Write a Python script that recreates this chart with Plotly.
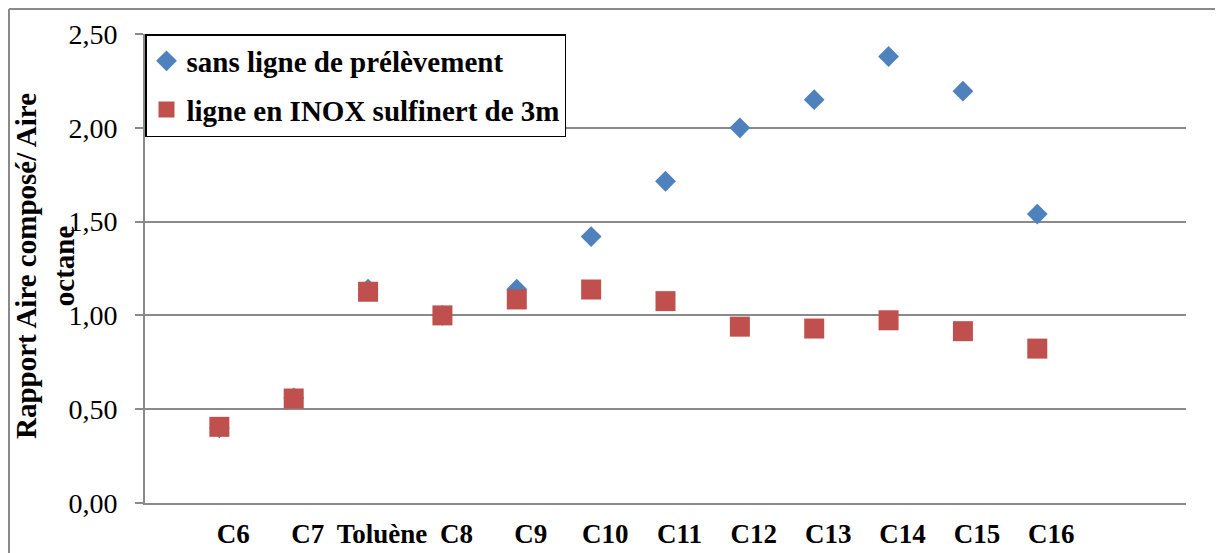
import plotly.graph_objects as go

categories = ["C6", "C7", "Toluène", "C8", "C9", "C10", "C11", "C12", "C13", "C14", "C15", "C16"]
positions = list(range(1, len(categories) + 1))

sans_ligne = [0.40, 0.56, 1.14, 1.00, 1.14, 1.42, 1.715, 2.00, 2.15, 2.38, 2.195, 1.54]
ligne_inox = [0.406, 0.557, 1.126, 1.00, 1.085, 1.138, 1.076, 0.94, 0.93, 0.974, 0.916, 0.823]

y_ticks = [0, 0.5, 1.0, 1.5, 2.0, 2.5]

# page body has an 8px margin, so the figure is 8px smaller than the window
W, H = 1215, 545
L, R, T, B = 137, 37, 26, 50
pw, ph = W - L - R, H - T - B

fig = go.Figure()
fig.add_trace(go.Scatter(
    x=positions, y=sans_ligne, mode="markers", name="<b>sans ligne de prélèvement</b>",
    legendgroup="a",
    marker=dict(symbol="diamond", size=16, color="#4F81BD"),
))
fig.add_trace(go.Scatter(
    x=positions, y=ligne_inox, mode="markers", name="<b>ligne en INOX sulfinert de 3m</b>",
    legendgroup="b",
    marker=dict(symbol="square", size=20, color="#C0504D"),
))

# outer chart border (left + top visible)
fig.add_shape(type="line", xref="paper", yref="paper",
              x0=(1 - L) / pw, x1=(W + 5 - L) / pw, y0=(H - B - 1) / ph, y1=(H - B - 1) / ph,
              line=dict(color="#8a8a8a", width=2))
fig.add_shape(type="line", xref="paper", yref="paper",
              x0=(1 - L) / pw, x1=(1 - L) / pw, y0=(H - B - 1) / ph, y1=-(B + 5) / ph,
              line=dict(color="#8a8a8a", width=2))

fig.add_annotation(
    text="<b>Rapport Aire composé/ Aire<br>octane</b>",
    xref="paper", yref="paper", x=(37 - L) / pw, y=(H - B - 258) / ph,
    xanchor="center", yanchor="middle", textangle=-90, showarrow=False,
    font=dict(family="Liberation Serif", size=29, color="black"),
)

fig.update_layout(
    width=W, height=H,
    margin=dict(l=L, r=R, t=T, b=B),
    paper_bgcolor="white", plot_bgcolor="white",
    separators=", ",
    showlegend=True,
    legend=dict(
        x=0, y=1, xanchor="left", yanchor="top",
        bgcolor="white", bordercolor="black", borderwidth=1.5,
        font=dict(family="Liberation Serif", size=29, color="black"),
        tracegroupgap=8, itemwidth=30,
    ),
    font=dict(family="Liberation Serif", color="black"),
)

fig.update_xaxes(
    range=[0, 14], tickvals=positions, ticktext=["<b>%s</b>" % c for c in categories],
    showgrid=False, zeroline=False, showline=True, linecolor="#8a8a8a", linewidth=2,
    ticks="", tickfont=dict(family="Liberation Serif", size=27, color="black"),
    ticklabelshift=14, ticklabelstandoff=6, automargin=False,
)
fig.update_yaxes(
    range=[0, 2.5], tickvals=y_ticks, tickformat=".2f",
    showgrid=True, gridcolor="#8a8a8a", gridwidth=2, zeroline=False,
    showline=True, linecolor="#8a8a8a", linewidth=2,
    ticks="outside", ticklen=8, tickcolor="#8a8a8a", tickwidth=2,
    tickfont=dict(family="Liberation Serif", size=28, color="black"),
    ticklabelstandoff=12, automargin=False,
)

fig.write_html("out.html")
